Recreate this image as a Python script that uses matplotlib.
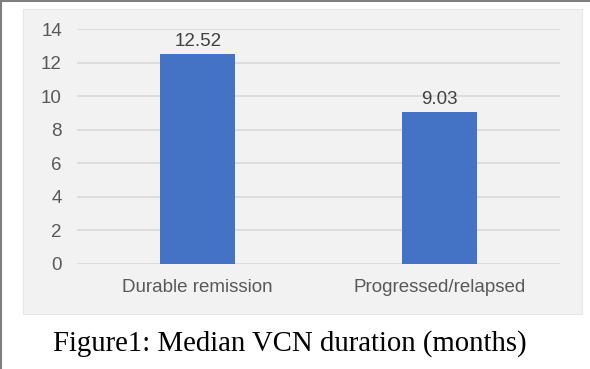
import matplotlib
matplotlib.use('agg')
import matplotlib.pyplot as plt
from matplotlib.patches import Rectangle
from matplotlib.lines import Line2D

categories = ["Durable remission", "Progressed/relapsed"]
values = [12.52, 9.03]
value_labels = ["12.52", "9.03"]
y_ticks = [0, 2, 4, 6, 8, 10, 12, 14]
caption = "Figure1: Median VCN duration (months)"

W, H = 590, 369
fig = plt.figure(figsize=(W / 100, H / 100), dpi=100)
fig.patch.set_facecolor('white')

# light grey chart panel
fig.patches.append(Rectangle((23 / W, 1 - 314 / H), (582 - 23) / W, (314 - 9) / H,
                             transform=fig.transFigure, facecolor='#f2f2f2',
                             edgecolor='#e6e6e6', linewidth=0.8, zorder=-5))
# page border lines (top and left)
fig.add_artist(Line2D([0, 1], [1 - 0.5 / H, 1 - 0.5 / H], transform=fig.transFigure,
                      color='#7f7f7f', linewidth=1.5))
fig.add_artist(Line2D([1 / W, 1 / W], [0, 1], transform=fig.transFigure,
                      color='#7f7f7f', linewidth=1.5))

ax = fig.add_axes([77 / W, 1 - 264 / H, (560 - 77) / W, (264 - 29) / H])
ax.set_zorder(2)
ax.set_facecolor('none')
x = list(range(len(categories)))
ax.bar(x, values, width=0.31, color='#4472c4', zorder=3)
for xi, v, lab in zip(x, values, value_labels):
    ax.annotate(lab, (xi, v), xytext=(0, 3), textcoords='offset points',
                ha='center', va='bottom', fontsize=13.5,
                color='#404040', family='Liberation Sans')

ax.set_xlim(-0.5, 1.5)
ax.set_ylim(0, 14)
ax.set_yticks(y_ticks)
ax.set_yticklabels([str(t) for t in y_ticks], family='Liberation Sans', fontsize=13.5, color='#595959')
ax.set_xticks(x)
ax.set_xticklabels(categories, family='Liberation Sans', fontsize=13.5, color='#595959')
ax.tick_params(length=0)
ax.tick_params(axis='y', pad=10.8)
ax.tick_params(axis='x', pad=11)
ax.grid(axis='y', color='#d9d9d9', linewidth=1.2, zorder=0)
for s in ax.spines.values():
    s.set_visible(False)

fig.text(290 / W, 1 - 344 / H, caption, ha='center', va='center',
         family='Liberation Serif', fontsize=20.7, color='black')

fig.savefig('out.png', dpi=100, facecolor='white')
